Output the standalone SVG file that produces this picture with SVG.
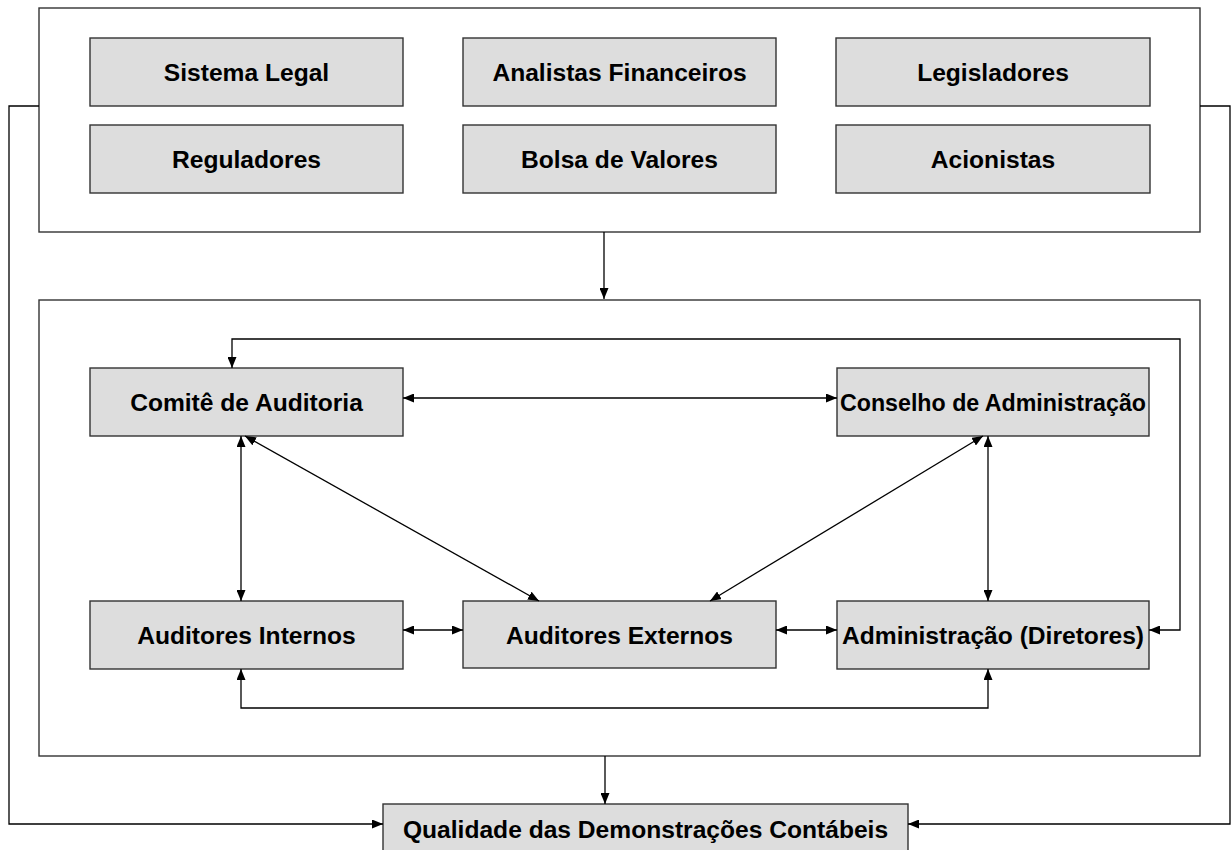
<svg xmlns="http://www.w3.org/2000/svg" width="1231" height="850" viewBox="0 0 1231 850">
<defs>
<marker id="ah" markerUnits="userSpaceOnUse" markerWidth="11" markerHeight="9" refX="11" refY="4.5" orient="auto-start-reverse">
<path d="M0,0 L11,4.5 L0,9 z" fill="#000"/>
</marker>
<style>
.frame{fill:#fff;stroke:#333;stroke-width:1.4}
.box{fill:#dddddd;stroke:#333;stroke-width:1.4}
.lbl{font-family:"Liberation Sans",Arial,sans-serif;font-weight:bold;font-size:24.6px;fill:#000;text-anchor:middle}
.con{fill:none;stroke:#000;stroke-width:1.3}
</style>
</defs>
<rect width="1231" height="850" fill="#fff"/>
<g id="frame-top"><rect class="frame" x="39" y="8" width="1161" height="224"/></g>
<g id="frame-mid"><rect class="frame" x="39" y="300" width="1161" height="456"/></g>

<g id="sistema-legal"><rect class="box" x="90" y="38" width="313" height="68"/><text class="lbl" x="246.5" y="81">Sistema Legal</text></g>
<g id="analistas"><rect class="box" x="463" y="38" width="313" height="68"/><text class="lbl" x="619.5" y="81">Analistas Financeiros</text></g>
<g id="legisladores"><rect class="box" x="836" y="38" width="314" height="68"/><text class="lbl" x="993" y="81">Legisladores</text></g>
<g id="reguladores"><rect class="box" x="90" y="125" width="313" height="68"/><text class="lbl" x="246.5" y="168">Reguladores</text></g>
<g id="bolsa"><rect class="box" x="463" y="125" width="313" height="68"/><text class="lbl" x="619.5" y="168">Bolsa de Valores</text></g>
<g id="acionistas"><rect class="box" x="836" y="125" width="314" height="68"/><text class="lbl" x="993" y="168">Acionistas</text></g>

<g id="comite"><rect class="box" x="90" y="368" width="313" height="68"/><text class="lbl" x="246.5" y="411">Comitê de Auditoria</text></g>
<g id="conselho"><rect class="box" x="837" y="368" width="312" height="68"/><text class="lbl" x="993" y="411" textLength="306" lengthAdjust="spacingAndGlyphs">Conselho de Administração</text></g>
<g id="internos"><rect class="box" x="90" y="601" width="313" height="68"/><text class="lbl" x="246.5" y="644">Auditores Internos</text></g>
<g id="externos"><rect class="box" x="463" y="601" width="313" height="67"/><text class="lbl" x="619.5" y="644">Auditores Externos</text></g>
<g id="administracao"><rect class="box" x="837" y="601" width="312" height="68"/><text class="lbl" x="993" y="644" textLength="302" lengthAdjust="spacingAndGlyphs">Administração (Diretores)</text></g>

<g id="qualidade"><rect class="box" x="383" y="804" width="525" height="68"/><text class="lbl" x="645.5" y="838">Qualidade das Demonstrações Contábeis</text></g>

<g id="connectors">
<path class="con" d="M604,232 V299" marker-end="url(#ah)"/>
<path class="con" d="M605,756 V804" marker-end="url(#ah)"/>
<path class="con" d="M39,106 H9 V824 H383" marker-end="url(#ah)"/>
<path class="con" d="M1200,106 H1230 V824 H908" marker-end="url(#ah)"/>
<path class="con" d="M403,398 H837" marker-start="url(#ah)" marker-end="url(#ah)"/>
<path class="con" d="M241,436 V601" marker-start="url(#ah)" marker-end="url(#ah)"/>
<path class="con" d="M245,436 L539,601" marker-start="url(#ah)" marker-end="url(#ah)"/>
<path class="con" d="M983,436 L710,601" marker-start="url(#ah)" marker-end="url(#ah)"/>
<path class="con" d="M988,436 V601" marker-start="url(#ah)" marker-end="url(#ah)"/>
<path class="con" d="M403,630 H463" marker-start="url(#ah)" marker-end="url(#ah)"/>
<path class="con" d="M776,630 H837" marker-start="url(#ah)" marker-end="url(#ah)"/>
<path class="con" d="M1149,630 H1180 V339 H232 V368" marker-start="url(#ah)" marker-end="url(#ah)"/>
<path class="con" d="M241,669 V708 H988 V669" marker-start="url(#ah)" marker-end="url(#ah)"/>
</g>
</svg>
